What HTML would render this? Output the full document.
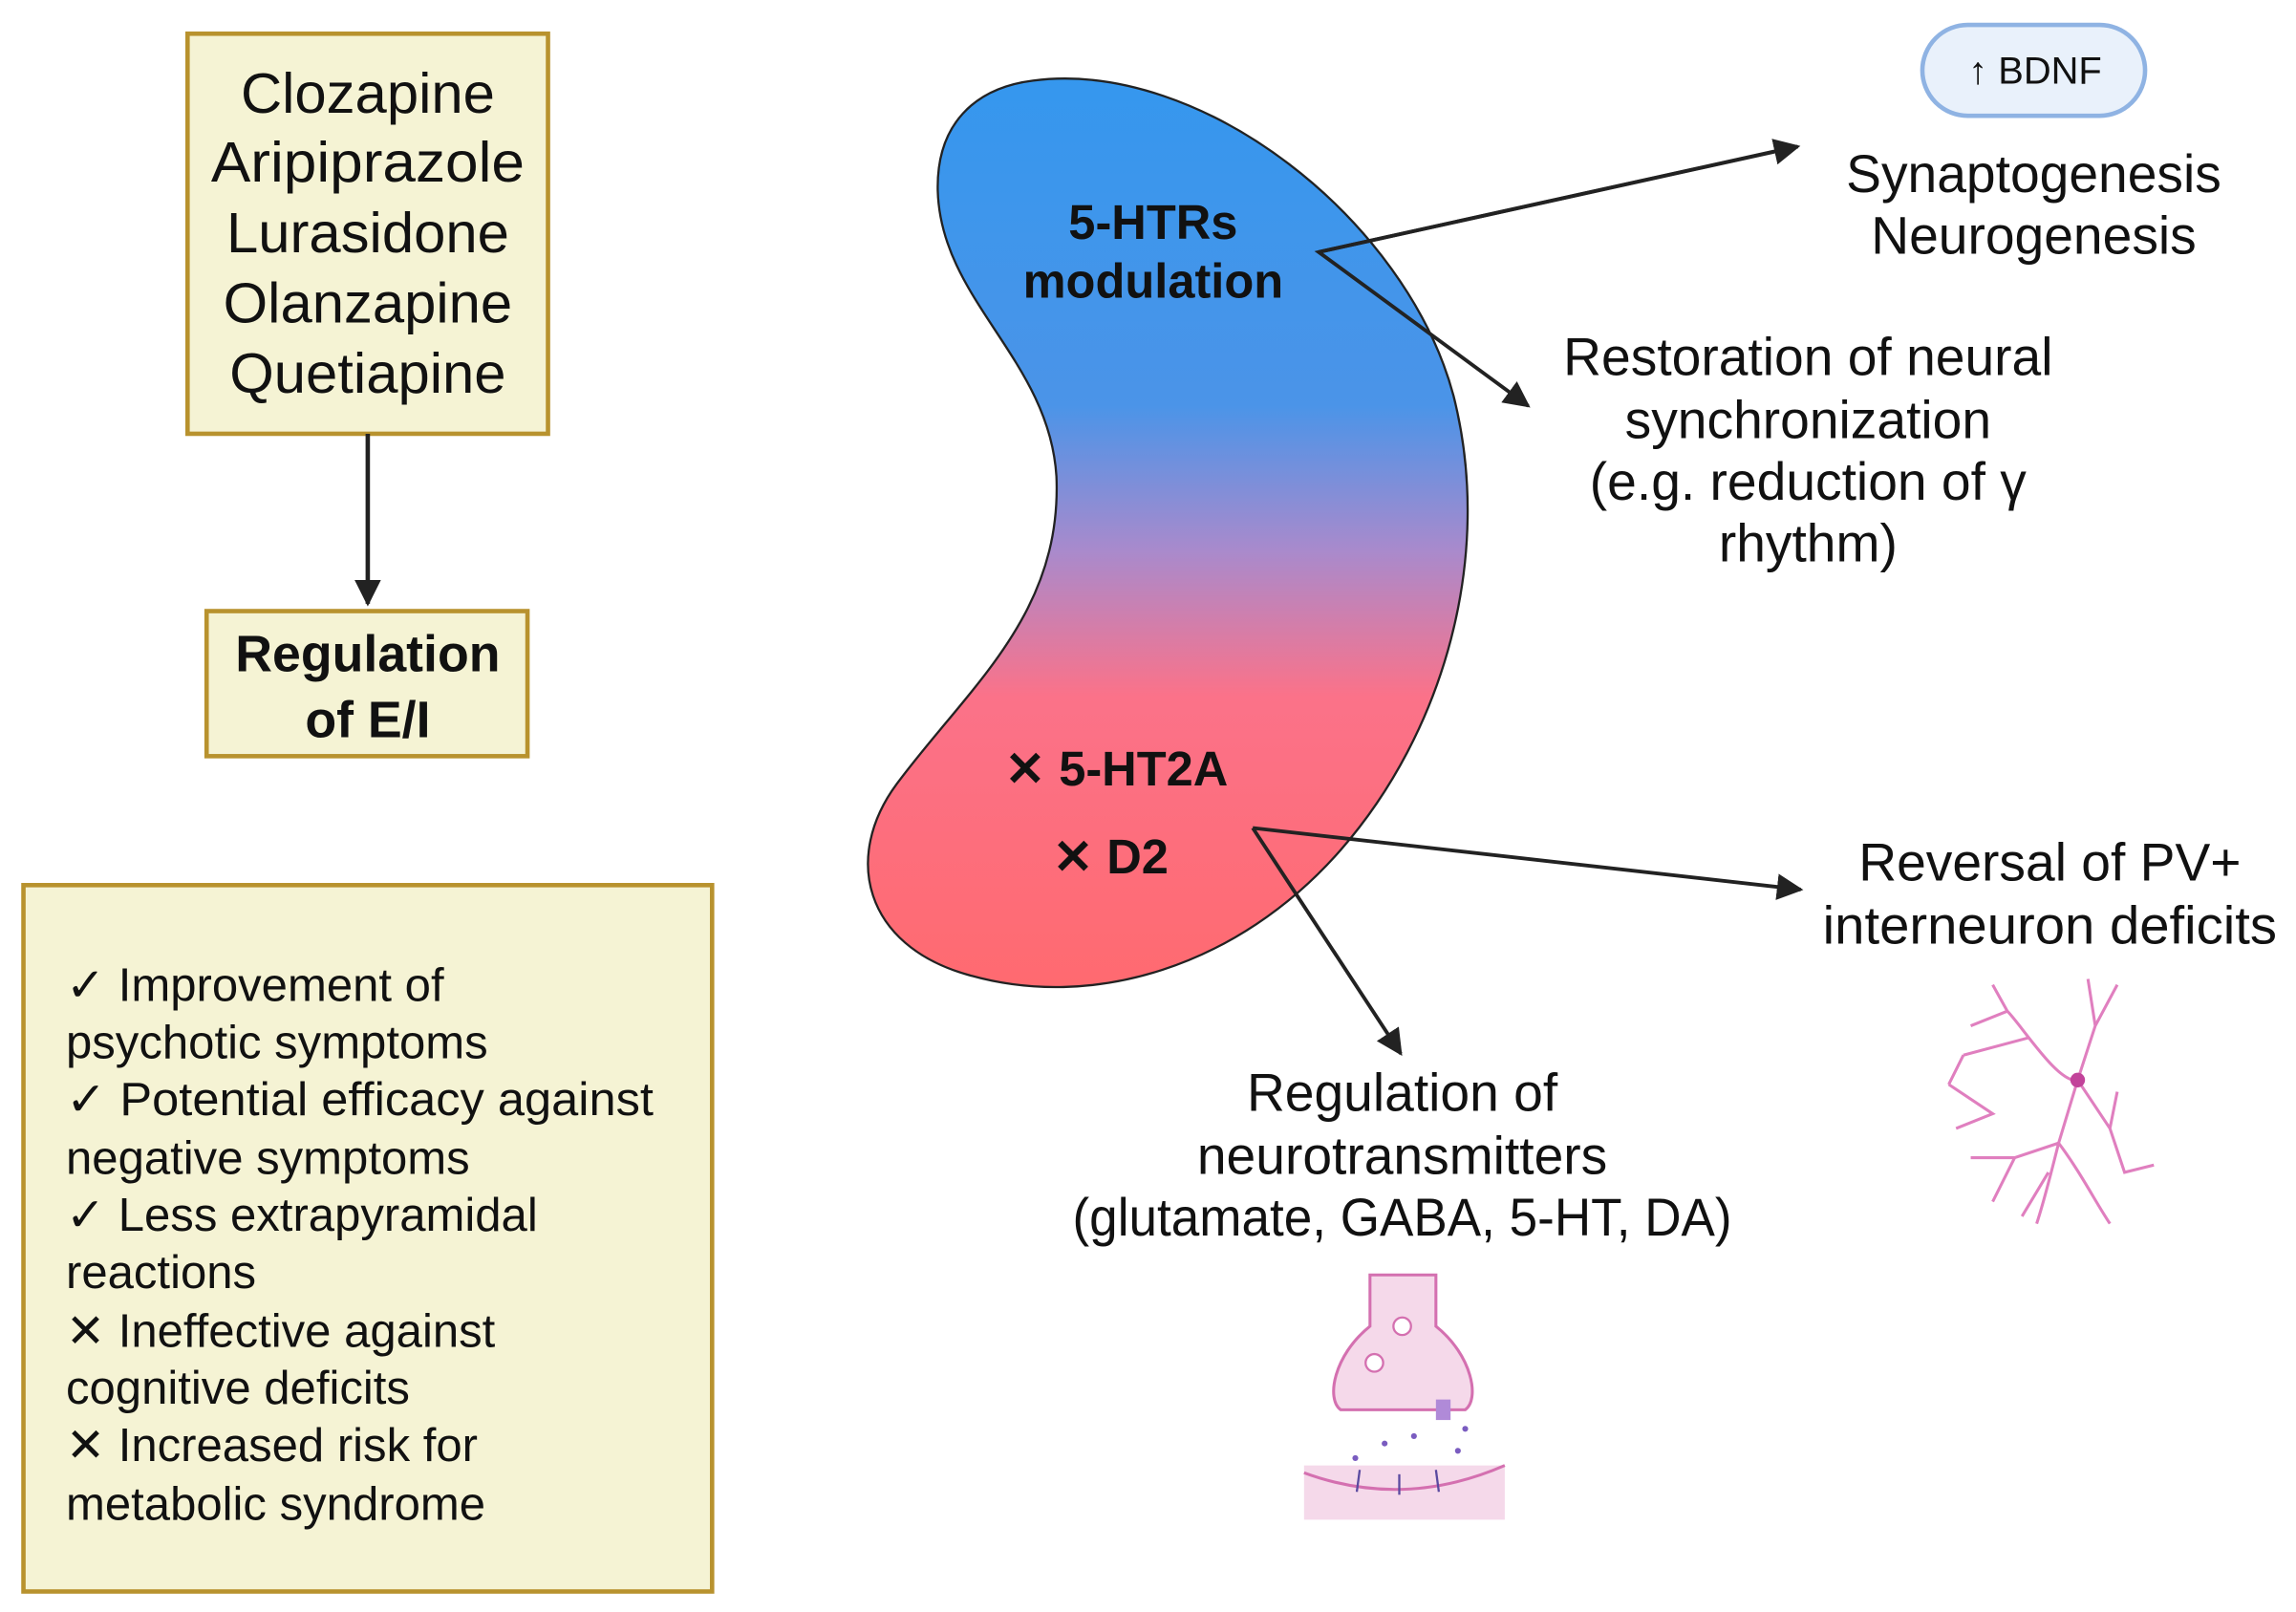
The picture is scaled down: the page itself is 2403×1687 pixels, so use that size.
<!DOCTYPE html>
<html><head><meta charset="utf-8"><style>
html,body{margin:0;padding:0;background:#fff;}
svg{display:block;}
text{font-family:"Liberation Sans",sans-serif;fill:#111;}
</style></head><body>
<svg width="2403" height="1687" viewBox="0 0 1567 1100" preserveAspectRatio="none" xmlns="http://www.w3.org/2000/svg">
<defs>
<linearGradient id="g" x1="0" y1="0" x2="0" y2="1" gradientUnits="objectBoundingBox">
<stop offset="0" stop-color="#3597ee"/>
<stop offset="0.36" stop-color="#4b94e8"/>
<stop offset="0.52" stop-color="#a98acc"/>
<stop offset="0.68" stop-color="#fb7289"/>
<stop offset="1" stop-color="#ff6a70"/>
</linearGradient>
<marker id="b" viewBox="0 0 10 10" refX="9" refY="5" markerWidth="18" markerHeight="18" orient="auto" markerUnits="userSpaceOnUse"><path d="M0,0 L10,5 L0,10 Z" fill="#222"/></marker>
</defs>
<rect width="1567" height="1100" fill="#fff"/>

<rect x="128" y="23" width="246" height="273" fill="#f5f3d4" stroke="#b8922e" stroke-width="3"/>
<g font-size="39" text-anchor="middle">
<text x="251" y="77">Clozapine</text>
<text x="251" y="124" textLength="214" lengthAdjust="spacingAndGlyphs">Aripiprazole</text>
<text x="251" y="172">Lurasidone</text>
<text x="251" y="220">Olanzapine</text>
<text x="251" y="268">Quetiapine</text>
</g>
<line x1="251" y1="296" x2="251" y2="412" stroke="#222" stroke-width="3" marker-end="url(#b)"/>
<rect x="141" y="417" width="219" height="99" fill="#f5f3d4" stroke="#b8922e" stroke-width="3"/>
<g font-size="35" font-weight="bold" text-anchor="middle">
<text x="251" y="458">Regulation</text>
<text x="251" y="503">of E/I</text>
</g>

<rect x="16" y="604" width="470" height="482" fill="#f5f3d4" stroke="#b8922e" stroke-width="3"/>
<g font-size="32">
<text x="45" y="683">✓ Improvement of</text>
<text x="45" y="722">psychotic symptoms</text>
<text x="45" y="761" textLength="401" lengthAdjust="spacingAndGlyphs">✓ Potential efficacy against</text>
<text x="45" y="801">negative symptoms</text>
<text x="45" y="840">✓ Less extrapyramidal</text>
<text x="45" y="879">reactions</text>
<text x="45" y="919">✕ Ineffective against</text>
<text x="45" y="958">cognitive deficits</text>
<text x="45" y="997">✕ Increased risk for</text>
<text x="45" y="1037">metabolic syndrome</text>
</g>

<path d="M705,55 C820,40 960,150 992,270 C1020,380 985,500 915,580 C845,660 745,690 660,665 C590,645 575,585 612,535 C660,470 725,420 721,325 C716,245 642,205 640,130 C639,85 665,60 705,55 Z" fill="url(#g)" stroke="#222" stroke-width="1.5"/>
<g font-size="33" font-weight="bold" text-anchor="middle">
<text x="787" y="163">5-HTRs</text>
<text x="787" y="203">modulation</text>
<text x="762" y="536">✕ 5-HT2A</text>
<text x="758" y="596">✕ D2</text>
</g>

<g stroke="#222" stroke-width="2.5" fill="none">
<polyline points="1226,100 900,172 1043,277" marker-end="url(#b)"/>
<line x1="900" y1="172" x2="1227" y2="100" marker-end="url(#b)"/>
<line x1="855" y1="565" x2="1229" y2="607" marker-end="url(#b)"/>
<line x1="855" y1="565" x2="956" y2="719" marker-end="url(#b)"/>
</g>

<rect x="1312" y="17" width="152" height="62" rx="31" fill="#e9f1fb" stroke="#8fb3e3" stroke-width="3"/>
<text x="1389" y="57" font-size="26" text-anchor="middle">↑ BDNF</text>

<g font-size="36" text-anchor="middle">
<text x="1388" y="131">Synaptogenesis</text>
<text x="1388" y="173">Neurogenesis</text>
<text x="1234" y="256">Restoration of neural</text>
<text x="1234" y="299">synchronization</text>
<text x="1234" y="341">(e.g. reduction of γ</text>
<text x="1234" y="383">rhythm)</text>
<text x="1399" y="601">Reversal of PV+</text>
<text x="1399" y="644" textLength="310" lengthAdjust="spacingAndGlyphs">interneuron deficits</text>
<text x="957" y="758">Regulation of</text>
<text x="957" y="801">neurotransmitters</text>
<text x="957" y="843" textLength="450" lengthAdjust="spacingAndGlyphs">(glutamate, GABA, 5-HT, DA)</text>
</g>

<g stroke="#e07fbf" stroke-width="2" fill="none">
<path d="M1418,737 C1405,740 1380,700 1370,690 M1370,690 L1360,672 M1370,690 L1345,700 M1385,708 L1340,720 M1340,720 L1330,740 M1418,737 L1430,700 L1425,668 M1430,700 L1445,672 M1418,737 L1405,780 C1400,800 1395,820 1390,835 M1405,780 L1375,790 L1345,790 M1375,790 L1360,820 M1418,737 L1440,770 L1450,800 L1470,795 M1440,770 L1445,745 M1405,780 C1420,800 1430,820 1440,835 M1398,800 L1380,830 M1330,740 L1360,760 L1335,770"/>
</g>
<circle cx="1418" cy="737" r="5" fill="#c2439a"/>

<rect x="890" y="1000" width="137" height="37" fill="#f5d9ea"/>
<path d="M890,1005 Q958,1030 1027,1000" fill="#f5d9ea" stroke="#d470b0" stroke-width="2"/>
<path d="M935,870 L935,905 C910,925 905,955 915,962 L1000,962 C1010,955 1005,925 980,905 L980,870 Z" fill="#f5d9ea" stroke="#d470b0" stroke-width="2"/>
<circle cx="957" cy="905" r="6" fill="#fff" stroke="#d470b0" stroke-width="1.5"/>
<circle cx="938" cy="930" r="6" fill="#fff" stroke="#d470b0" stroke-width="1.5"/>
<rect x="980" y="955" width="10" height="14" fill="#b08ad8"/>
<g fill="#7a5cc0"><circle cx="925" cy="995" r="2"/><circle cx="945" cy="985" r="2"/><circle cx="965" cy="980" r="2"/><circle cx="995" cy="990" r="2"/><circle cx="1000" cy="975" r="2"/></g>
<g stroke="#5a4aa0" stroke-width="1.5"><line x1="928" y1="1003" x2="926" y2="1018"/><line x1="955" y1="1006" x2="955" y2="1020"/><line x1="980" y1="1003" x2="982" y2="1018"/></g>
</svg>
</body></html>
